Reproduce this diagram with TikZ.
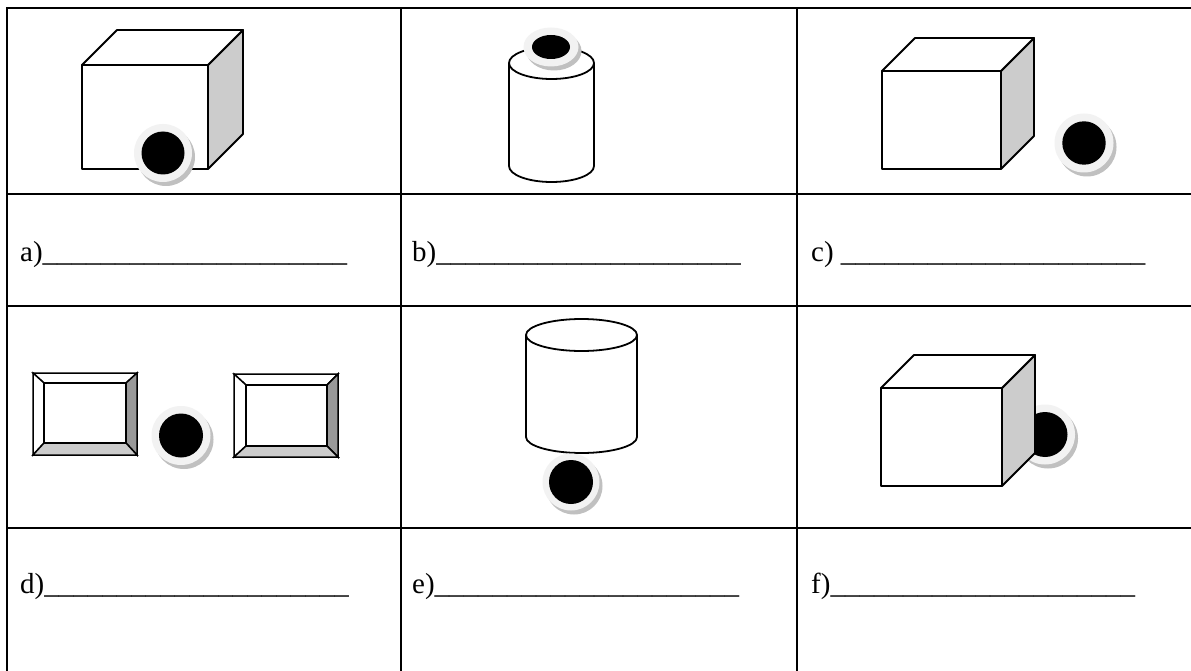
\documentclass[tikz,border=0pt]{standalone}
\usepackage{fontspec}
\setmainfont{Liberation Serif}
\definecolor{sidegray}{HTML}{CCCCCC}
\definecolor{darkbevel}{HTML}{999999}
\definecolor{ringlight}{HTML}{F2F2F2}
\definecolor{shadowgray}{HTML}{C0C0C0}
\newcommand\myblank{\_\_\_\_\_\_\_\_\_\_\_\_\_\_\_\_\_\_\_\_\_}
% cube: #1 x, #2 y (front top-left), #3 w, #4 h, #5 depth
\newcommand\drawcube[5]{%
  \filldraw[shapeline, fill=sidegray] (#1+#3,#2) -- (#1+#3+#5,#2-#5) -- (#1+#3+#5,#2+#4-#5) -- (#1+#3,#2+#4) -- cycle;
  \filldraw[shapeline, fill=white] (#1,#2) -- (#1+#5,#2-#5) -- (#1+#3+#5,#2-#5) -- (#1+#3,#2) -- cycle;
  \filldraw[shapeline, fill=white] (#1,#2) rectangle (#1+#3,#2+#4);
}
% ball: #1 cx, #2 cy, #3 ring rx, #4 ring ry, #5 black rx, #6 black ry
\newcommand\drawball[6]{%
  \fill[shadowgray] (#1+3,#2+4) ellipse [x radius=#3, y radius=#4];
  \fill[ringlight] (#1,#2) ellipse [x radius=#3, y radius=#4];
  \fill[black] (#1,#2) ellipse [x radius=#5, y radius=#6];
}
% cylinder: #1 cx, #2 ytop, #3 ybot, #4 rx, #5 ry
\newcommand\drawcyl[5]{%
  \filldraw[shapeline, fill=white] (#1,#3) ellipse [x radius=#4, y radius=#5];
  \fill[white] (#1-#4,#2) rectangle (#1+#4,#3);
  \draw[shapeline] (#1-#4,#2) -- (#1-#4,#3);
  \draw[shapeline] (#1+#4,#2) -- (#1+#4,#3);
  \filldraw[shapeline, fill=white] (#1,#2) ellipse [x radius=#4, y radius=#5];
}
% bevelled frame: outer #1,#2 - #3,#4 ; inner #5,#6 - #7,#8
\newcommand\drawframe[8]{%
  \filldraw[frameline, fill=white] (#1,#2) -- (#3,#2) -- (#7,#6) -- (#5,#6) -- cycle;
  \filldraw[frameline, fill=white] (#1,#2) -- (#5,#6) -- (#5,#8) -- (#1,#4) -- cycle;
  \filldraw[frameline, fill=darkbevel] (#3,#2) -- (#3,#4) -- (#7,#8) -- (#7,#6) -- cycle;
  \filldraw[frameline, fill=sidegray] (#1,#4) -- (#5,#8) -- (#7,#8) -- (#3,#4) -- cycle;
  \filldraw[frameline, fill=white] (#5,#6) rectangle (#7,#8);
}
\begin{document}
\begin{tikzpicture}[x=1pt, y=-1pt,
  gridline/.style={line width=2.6pt, line cap=rect},
  shapeline/.style={draw=black, line width=1.8pt, line join=round},
  frameline/.style={draw=black, line width=1.5pt, line join=miter},
  lbl/.style={inner sep=0pt, anchor=base west, font=\fontsize{29}{34}\selectfont}]
\useasboundingbox (0,0) rectangle (1191,671);
\fill[white] (0,0) rectangle (1191,671);
% table grid
\draw[gridline] (7,8) -- (1195,8);
\draw[gridline] (7,194) -- (1195,194);
\draw[gridline] (7,306) -- (1195,306);
\draw[gridline] (7,528) -- (1195,528);
\draw[gridline] (7,8) -- (7,675);
\draw[gridline] (401,8) -- (401,675);
\draw[gridline] (797,8) -- (797,675);
% a) cube with ball in front
\drawcube{82}{65}{126}{104}{35}
\drawball{163}{153}{29}{29}{21.5}{21.5}
% b) cylinder with ball on top
\drawcyl{551.5}{63}{166}{42.5}{16}
\drawball{551}{47}{27.5}{19.5}{19}{12}
% c) cube with ball beside
\drawcube{882}{71}{119}{98}{33}
\drawball{1084}{143}{29.5}{29.5}{21.7}{21.7}
% d) ball between two frames
\drawframe{33}{373}{137}{455}{44}{383}{126}{443}
\drawframe{234}{374}{338}{457}{246}{385}{327}{446}
\drawball{181}{435.5}{29.5}{29.5}{22}{22}
% e) cylinder with ball below
\drawcyl{581.5}{335}{437}{55.5}{16}
\drawball{571}{482}{28.5}{28.5}{22}{22}
% f) ball behind cube
\drawball{1045}{434.5}{30}{30}{22.5}{22.5}
\drawcube{881}{388}{121}{98}{33}
% labels
\node[lbl] (la) at (20,261) {a)\myblank};
\node[lbl] (lb) at (412,261) {b)\myblank};
\node[lbl] (lc) at (811,261) {c) \myblank};
\node[lbl] (ld) at (20,593.5) {d)\myblank};
\node[lbl] (le) at (412,593.5) {e)\myblank};
\node[lbl] (lf) at (811,593.5) {f)\myblank};
\end{tikzpicture}
\end{document}
